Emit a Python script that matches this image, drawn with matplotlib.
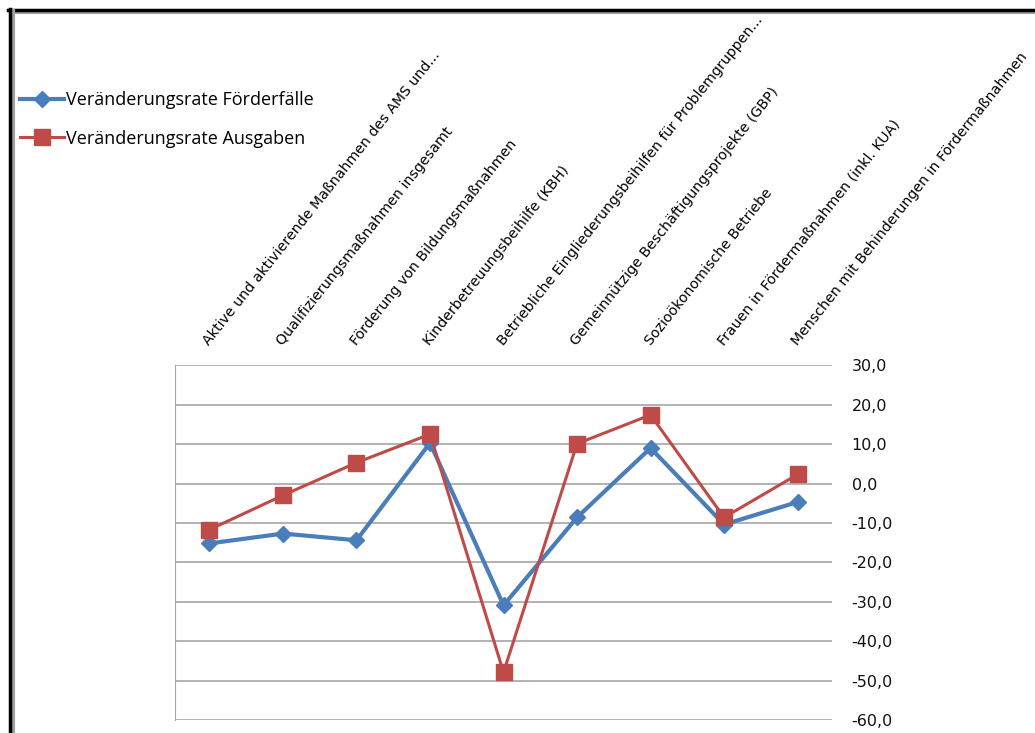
import numpy as np
import matplotlib.pyplot as plt
from matplotlib.lines import Line2D
from matplotlib.ticker import FuncFormatter, MultipleLocator

categories = [
    'Aktive und aktivierende Maßnahmen des AMS und...',
    'Qualifizierungsmaßnahmen insgesamt',
    'Förderung von Bildungsmaßnahmen',
    'Kinderbetreuungsbeihilfe (KBH)',
    'Betriebliche Eingliederungsbeihilfen für Problemgruppen...',
    'Gemeinnützige Beschäftigungsprojekte (GBP)',
    'Sozioökonomische Betriebe',
    'Frauen in Fördermaßnahmen (inkl. KUA)',
    'Menschen mit Behinderungen in Fördermaßnahmen',
]
rate_faelle = [-15.2, -12.7, -14.4, 10.3, -30.9, -8.6, 9.0, -10.4, -4.7]
rate_ausgaben = [-11.7, -3.0, 5.3, 12.5, -47.9, 10.1, 17.4, -8.6, 2.3]
label_faelle = 'Veränderungsrate Förderfälle'
label_ausgaben = 'Veränderungsrate Ausgaben'

blue = '#4A7EBB'
red = '#BE4B48'

fig = plt.figure(figsize=(10.35, 7.33), dpi=100)
ax = fig.add_axes([0.169, 0.0177, 0.635, 0.484])

x = np.arange(len(categories))
l1, = ax.plot(x, rate_faelle, color=blue, lw=3, marker='D', ms=8,
              label=label_faelle, zorder=3)
l2, = ax.plot(x, rate_ausgaben, color=red, lw=2.2, marker='s', ms=11,
              label=label_ausgaben, zorder=4)

ax.set_xlim(-0.47, 8.47)
ax.set_ylim(-60, 30)
ax.yaxis.set_major_locator(MultipleLocator(10))
ax.yaxis.set_major_formatter(FuncFormatter(lambda v, p: f'{v:.1f}'.replace('.', ',')))
ax.yaxis.tick_right()
ax.tick_params(axis='y', length=0, pad=14, labelsize=11.5, colors='#111111')
ax.grid(axis='y', color='#A6A6A6', lw=1.2)
ax.set_axisbelow(True)

ax.xaxis.tick_top()
ax.set_xticks(x)
ax.set_xticklabels(categories, rotation=51.5, ha='left', va='baseline',
                   rotation_mode='anchor', fontsize=10.2)
ax.tick_params(axis='x', length=0, pad=14)

for side in ['top', 'right', 'bottom']:
    ax.spines[side].set_visible(False)
ax.spines['left'].set_color('#A6A6A6')

fig.legend(handles=[l1, l2], loc='upper left', bbox_to_anchor=(0.004, 0.898),
           frameon=False, handlelength=2.4, handletextpad=0.1,
           labelspacing=1.15, prop={'family': 'Open Sans', 'size': 13})

# frame of the original screenshot
fig.add_artist(Line2D([0.011, 1.0], [0.9835, 0.9835], color='#A0A0A0', lw=3,
                      transform=fig.transFigure))
fig.add_artist(Line2D([0.008, 1.0], [0.987, 0.987], color='black', lw=2.5,
                      transform=fig.transFigure))
fig.add_artist(Line2D([0.0128, 0.0128], [0.0, 0.985], color='#A0A0A0', lw=3,
                      transform=fig.transFigure))
fig.add_artist(Line2D([0.0095, 0.0095], [0.0, 0.988], color='black', lw=2.5,
                      transform=fig.transFigure))

plt.savefig('out.png', dpi=100)
